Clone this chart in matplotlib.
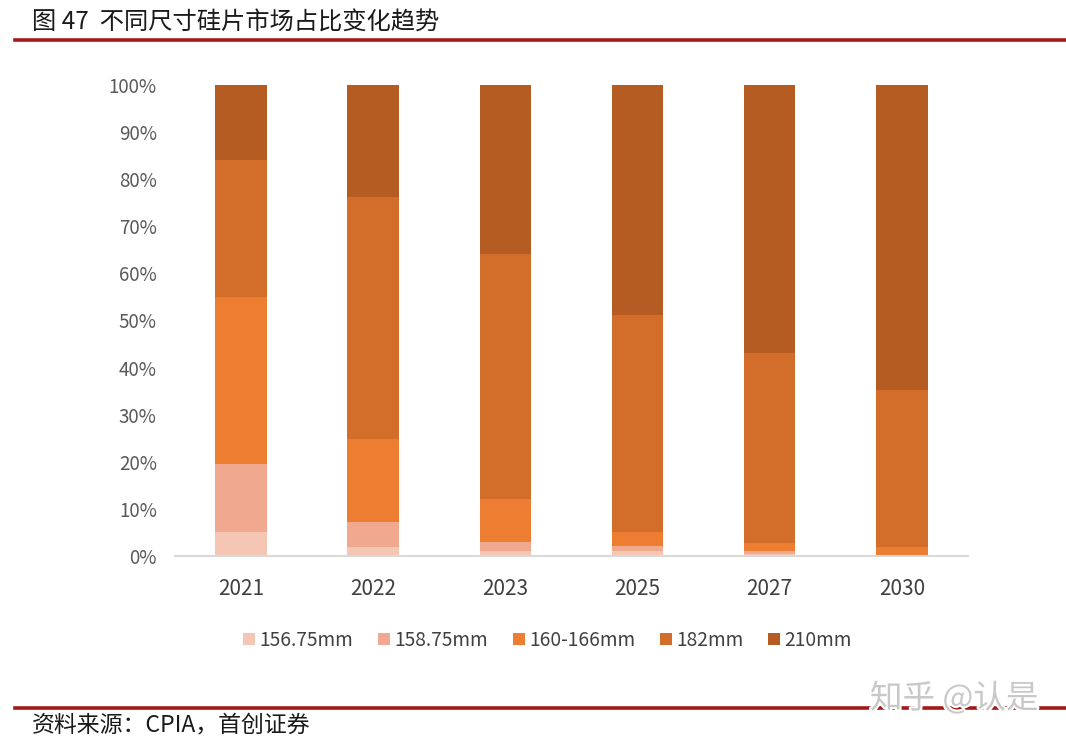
import numpy as np
import matplotlib
matplotlib.use('Agg')
import matplotlib.pyplot as plt
import matplotlib.patheffects as pe

plt.rcParams['font.family'] = ['Noto Sans CJK SC', 'DejaVu Sans']

# 数据
years = ['2021', '2022', '2023', '2025', '2027', '2030']
series = ['156.75mm', '158.75mm', '160-166mm', '182mm', '210mm']
s156 = [5.0, 2.0, 1.0, 1.0, 0.5, 0.0]
s158 = [14.5, 5.2, 2.0, 1.1, 0.6, 0.0]
s166 = [35.5, 17.6, 9.1, 3.0, 1.7, 2.0]
s182 = [29.0, 51.4, 52.0, 46.0, 40.3, 33.3]
s210 = [16.0, 23.8, 35.9, 48.9, 56.9, 64.7]
colors = ['#F5C6B3', '#F0A98E', '#ED7D31', '#D36E2A', '#B45C22']

fig = plt.figure(figsize=(10.66, 7.44), dpi=100)
ax = fig.add_axes([0.164, 0.2527, 0.744, 0.6331])

x = np.arange(len(years))
bottom = np.zeros(len(years))
for name, vals, c in zip(series, [s156, s158, s166, s182, s210], colors):
    vals = np.array(vals)
    ax.bar(x, vals, 0.39, bottom=bottom, color=c, label=name, edgecolor='none')
    bottom += vals

ax.set_xlim(-0.5, len(years) - 0.5)
ax.set_ylim(0, 100)
ax.set_yticks(np.arange(0, 101, 10))
ax.set_yticklabels([f'{v}%' for v in range(0, 101, 10)])
ax.set_xticks(x)
ax.set_xticklabels(years)
ax.tick_params(axis='y', length=0, labelsize=13.5, labelcolor='#595959', pad=13)
ax.tick_params(axis='x', length=0, labelsize=15, labelcolor='#404040', pad=16)
for s in ['top', 'right', 'left']:
    ax.spines[s].set_visible(False)
ax.spines['bottom'].set_color('#D9D9D9')
ax.spines['bottom'].set_linewidth(1.5)

leg = ax.legend(loc='upper center', bbox_to_anchor=(0.47, -0.12), ncol=5, frameon=False,
                fontsize=13.8, handlelength=0.62, handleheight=0.62, handletextpad=0.22,
                columnspacing=1.3)
for t in leg.get_texts():
    t.set_color('#404040')

# 标题和页脚
fig.text(0.030, 0.969, '图 47  不同尺寸硅片市场占比变化趋势', fontsize=17.5, color='#1a1a1a',
         va='center', ha='left')
fig.add_artist(plt.Line2D([0.014, 1.0], [0.946, 0.946], color='#A11A1A', lw=2.6))
fig.add_artist(plt.Line2D([0.014, 1.0], [0.048, 0.048], color='#A11A1A', lw=2.6))
fig.text(0.030, 0.026, '资料来源：CPIA，首创证券', fontsize=16.5, style='italic',
         color='#1a1a1a', va='center', ha='left')
fig.text(0.816, 0.061, '知乎 @认是', fontsize=23.5, color='#C8C8C8', va='center', ha='left',
         path_effects=[pe.withStroke(linewidth=3, foreground='white')])

fig.savefig('out.png', dpi=100)
